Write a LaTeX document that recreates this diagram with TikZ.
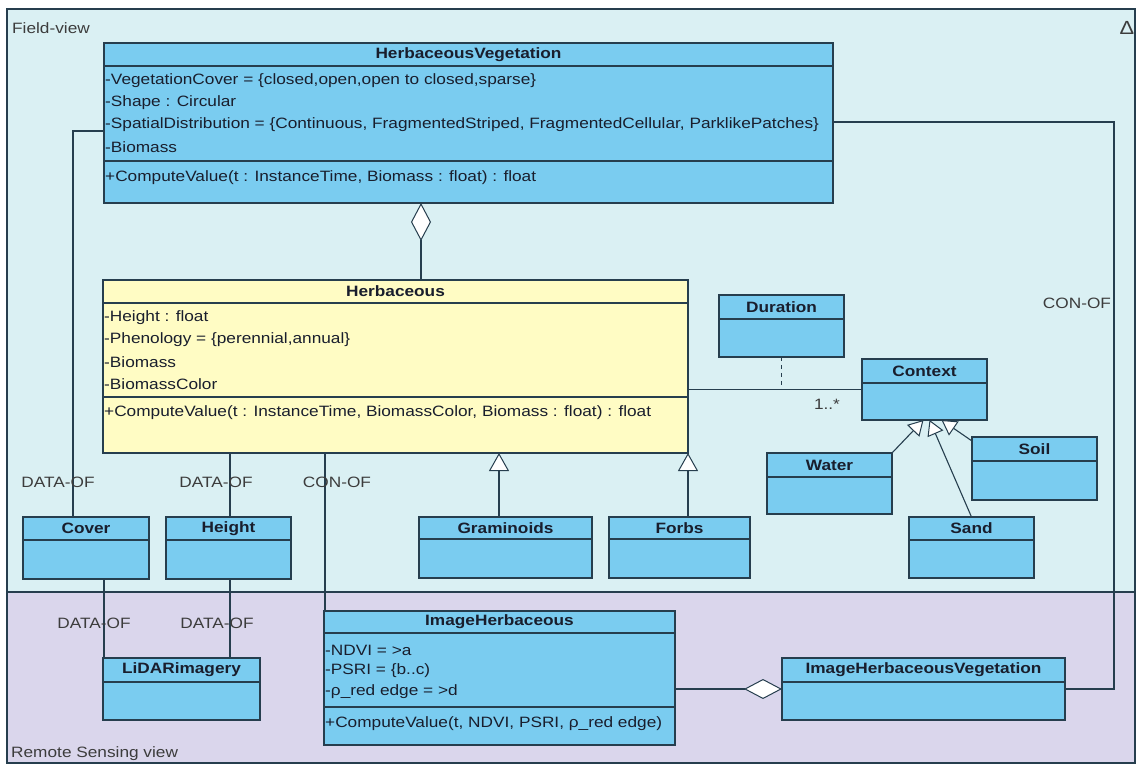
\documentclass[tikz,border=0pt]{standalone}
\usepackage{fontspec}
\setmainfont[FakeStretch=1.15]{Liberation Sans}
\usetikzlibrary{arrows.meta,calc}
\definecolor{fieldbg}{RGB}{218,240,243}
\definecolor{rsbg}{RGB}{218,214,236}
\definecolor{clsblue}{RGB}{122,204,240}
\definecolor{clsyellow}{RGB}{255,252,196}
\definecolor{edgecol}{RGB}{38,62,78}
\definecolor{ink}{RGB}{25,30,45}
\definecolor{lblink}{RGB}{60,60,60}
\newcommand{\umlclass}[8]{%
  \node[clsbox, fill=#8, minimum width=#4pt, minimum height=#5pt] (#1) at (#2,#3) {};
  \draw[divline] ([yshift=-#6pt]#1.north west) -- ([yshift=-#6pt]#1.north east);
  \node[clstitle] at ([yshift=-#6pt/2]#1.north) {#7};
}
\begin{document}
\begin{tikzpicture}[x=1pt,y=-1pt,
  font=\fontsize{15}{17}\selectfont,
  region/.style={draw=edgecol, line width=1.2pt, rectangle, inner sep=0pt, outer sep=0pt, anchor=north west},
  clsbox/.style={draw=edgecol, line width=1.3pt, rectangle, inner sep=0pt, outer sep=0pt, anchor=north west},
  divline/.style={draw=edgecol, line width=1.3pt},
  clstitle/.style={font=\fontsize{15}{17}\selectfont\bfseries, text=ink, inner sep=0pt},
  attr/.style={anchor=west, text=ink, inner sep=0pt},
  conn/.style={draw=edgecol, line width=1.1pt},
  gen/.style={conn, -{Triangle[length=18pt, width=20pt, fill=white, line width=1pt]}},
  gensmall/.style={conn, -{Triangle[length=15pt, width=17pt, fill=white, line width=1pt]}},
  agg/.style={conn, -{Diamond[length=38pt, width=20pt, fill=white, line width=1pt]}},
  lbl/.style={text=lblink, inner sep=0pt}
]
\useasboundingbox (0,0) rectangle (1136,767);
\fill[white] (0,0) rectangle (1136,767);

% regions
\node[region, fill=fieldbg, minimum width=1128pt, minimum height=583pt] (field) at (7,9) {};
\node[region, fill=rsbg, minimum width=1128pt, minimum height=171pt] (rs) at (7,592) {};
\draw[edgecol, line width=2.2pt] (field.north west) -- ([xshift=228pt]field.north west);
\node[lbl, anchor=west] (fvlabel) at (12,28) {Field-view};
\node[lbl, anchor=west] (rslabel) at (11,754) {Remote Sensing view};
\node[lbl, font=\fontsize{19}{21}\selectfont] (delta) at (1127,28) {Δ};

% classes
\umlclass{hv}{104}{43}{729}{160}{23}{HerbaceousVegetation}{clsblue}
\draw[divline] ([yshift=-118pt]hv.north west) -- ([yshift=-118pt]hv.north east);
\node[attr] (hva1) at ([xshift=1pt,yshift=-38pt]hv.north west) {-VegetationCover = \{closed,open,open to closed,sparse\}};
\node[attr] (hva2) at ([xshift=1pt,yshift=-60pt]hv.north west) {-Shape : Circular};
\node[attr] (hva3) at ([xshift=1pt,yshift=-82pt]hv.north west) {-SpatialDistribution = \{Continuous, FragmentedStriped, FragmentedCellular, ParklikePatches\}};
\node[attr] (hva4) at ([xshift=1pt,yshift=-104pt]hv.north west) {-Biomass};
\node[attr] (hvm1) at ([xshift=1pt,yshift=-135pt]hv.north west) {+ComputeValue(t : InstanceTime, Biomass : float) : float};

\umlclass{herb}{103}{280}{585}{173}{23}{Herbaceous}{clsyellow}
\draw[divline] ([yshift=-117pt]herb.north west) -- ([yshift=-117pt]herb.north east);
\node[attr] (ha1) at ([xshift=1pt,yshift=-38pt]herb.north west) {-Height : float};
\node[attr] (ha2) at ([xshift=1pt,yshift=-60pt]herb.north west) {-Phenology = \{perennial,annual\}};
\node[attr] (ha3) at ([xshift=1pt,yshift=-82pt]herb.north west) {-Biomass};
\node[attr] (ha4) at ([xshift=1pt,yshift=-104pt]herb.north west) {-BiomassColor};
\node[attr] (hm1) at ([xshift=1pt,yshift=-133pt]herb.north west) {+ComputeValue(t : InstanceTime, BiomassColor, Biomass : float) : float};

\umlclass{dur}{719}{295}{125}{62}{24}{Duration}{clsblue}
\umlclass{context}{862}{359}{125}{61}{24}{Context}{clsblue}
\umlclass{water}{767}{453}{125}{61}{24}{Water}{clsblue}
\umlclass{soil}{972}{437}{125}{63}{24}{Soil}{clsblue}
\umlclass{sand}{909}{517}{125}{61}{23}{Sand}{clsblue}
\umlclass{cover}{23}{517}{126}{62}{23}{Cover}{clsblue}
\umlclass{hgt}{166}{517}{125}{62}{23}{Height}{clsblue}
\umlclass{gram}{419}{517}{173}{61}{22}{Graminoids}{clsblue}
\umlclass{forbs}{609}{517}{141}{61}{22}{Forbs}{clsblue}
\umlclass{lidar}{103}{658}{157}{62}{24}{LiDARimagery}{clsblue}

\umlclass{imgh}{324}{611}{351}{134}{22}{ImageHerbaceous}{clsblue}
\draw[divline] ([yshift=-96pt]imgh.north west) -- ([yshift=-96pt]imgh.north east);
\node[attr] (ia1) at ([xshift=1pt,yshift=-39pt]imgh.north west) {-NDVI = >a};
\node[attr] (ia2) at ([xshift=1pt,yshift=-60pt]imgh.north west) {-PSRI = \{b..c)};
\node[attr] (ia3) at ([xshift=1pt,yshift=-81pt]imgh.north west) {-ρ\_red edge = >d};
\node[attr] (im1) at ([xshift=1pt,yshift=-113pt]imgh.north west) {+ComputeValue(t, NDVI, PSRI, ρ\_red edge)};

\umlclass{ihv}{782}{658}{283}{62}{24}{ImageHerbaceousVegetation}{clsblue}

% connectors
\draw[conn] ([yshift=-88pt]hv.north west) -| ([xshift=50pt]cover.north west);
\draw[conn] ([xshift=64pt]hgt.north west |- herb.south) -- ([xshift=64pt]hgt.north west);
\draw[conn] ([xshift=1pt]imgh.north west |- herb.south) -- ([xshift=1pt]imgh.north west);
\draw[gen] ([xshift=80pt]gram.north west) -- ([xshift=80pt]gram.north west |- herb.south);
\draw[gen] (forbs.north -| herb.south east) -- (herb.south east);
\draw[agg] ([xshift=318pt]herb.north west) -- ([xshift=318pt]herb.north west |- hv.south);
\draw[conn] (context.west -| herb.east) -- (context.west);
\draw[conn, dash pattern=on 4pt off 4pt] (dur.south) -- (dur.south |- context.west);
\draw[gensmall] (water.north east) -- ([xshift=-1pt]context.south);
\draw[gensmall] (sand.north) -- ([xshift=5pt]context.south);
\draw[gensmall] ([yshift=-4pt]soil.north west) -- ([xshift=17pt]context.south);
\draw[conn] ([yshift=-79pt]hv.north east) -| ([xshift=49pt]ihv.east) -- (ihv.east);
\draw[agg] (imgh.east |- ihv.west) -- (ihv.west);
\draw[conn] ([xshift=81pt]cover.south west) -- ([xshift=81pt]cover.south west |- lidar.north);
\draw[conn] ([xshift=64pt]hgt.south west) -- ([xshift=64pt]hgt.south west |- lidar.north);

% labels
\node[lbl] (l1) at (58,482) {DATA-OF};
\node[lbl] (l2) at (216,482) {DATA-OF};
\node[lbl] (l3) at (337,482) {CON-OF};
\node[lbl] (l4) at (94,623) {DATA-OF};
\node[lbl] (l5) at (217,623) {DATA-OF};
\node[lbl] (l6) at (1077,303) {CON-OF};
\node[lbl] (l7) at (827,404) {1..*};
\end{tikzpicture}
\end{document}
